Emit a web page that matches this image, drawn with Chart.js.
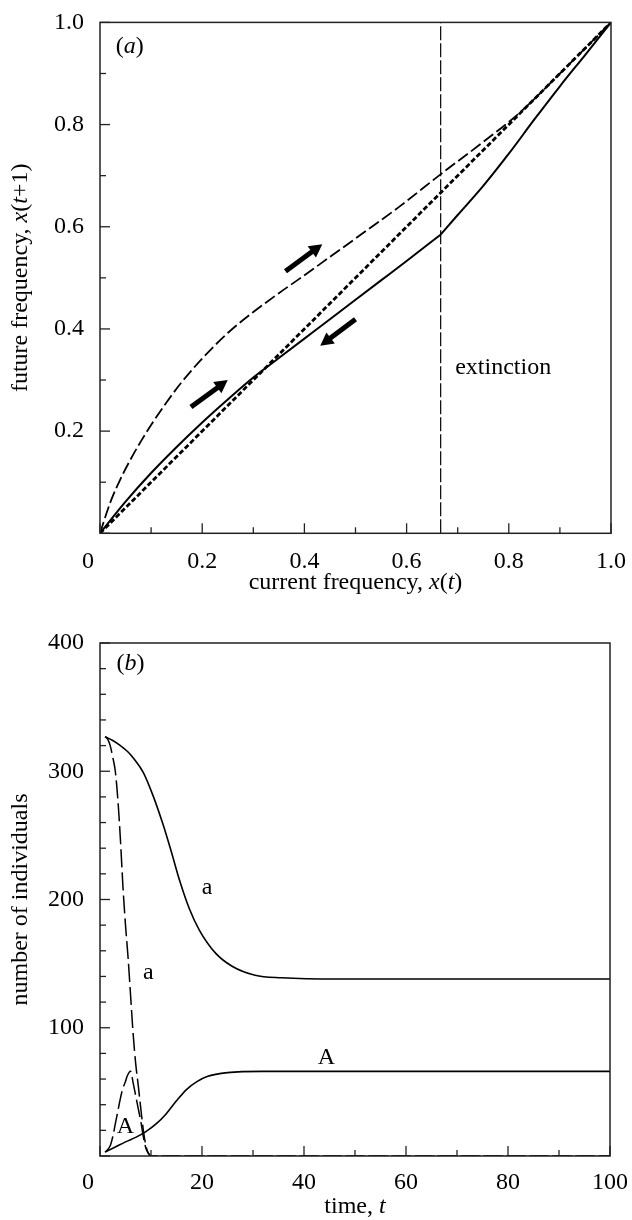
<!DOCTYPE html>
<html><head><meta charset="utf-8">
<script src="https://cdn.jsdelivr.net/npm/chart.js@4.4.0/dist/chart.umd.min.js"></script>
<style>html,body{margin:0;padding:0;background:#fff}canvas{display:block}</style>
</head><body>
<canvas id="c1" width="632" height="610" style="width:632px;height:610px"></canvas>
<canvas id="c2" width="632" height="610" style="width:632px;height:610px"></canvas>
<script>
// ===== Panel (a): frequency map =====
const upperX = [0, 0.02, 0.04, 0.06, 0.08, 0.10, 0.13, 0.16, 0.20, 0.25, 0.30, 0.35, 0.39, 0.45, 0.50, 0.584, 0.667, 0.75, 0.82, 0.90, 1.0];
const upperY = [0, 0.06, 0.106, 0.145, 0.18, 0.212, 0.256, 0.296, 0.342, 0.392, 0.433, 0.47, 0.498, 0.541, 0.577, 0.638, 0.703, 0.766, 0.822, 0.90, 1.0];
const solidLeftX = [0, 0.05, 0.10, 0.15, 0.20, 0.25, 0.30, 0.35, 0.40, 0.45, 0.50, 0.55, 0.60, 0.667];
const solidLeftY = [0, 0.062, 0.118, 0.169, 0.217, 0.262, 0.305, 0.343, 0.381, 0.419, 0.457, 0.495, 0.533, 0.585];
const solidRightX = [0.667, 0.70, 0.75, 0.80, 0.85, 0.90, 0.95, 1.0];
const solidRightY = [0.585, 0.623, 0.680, 0.743, 0.81, 0.875, 0.937, 1.0];
const diagX = [0, 1];
const diagY = [0, 1];
const extinctionX = [2/3, 2/3];
const extinctionY = [0, 1];
const arrowTailX = [0.363, 0.178, 0.500];
const arrowTailY = [0.513, 0.247, 0.419];
const arrowHeadX = [0.435, 0.250, 0.431];
const arrowHeadY = [0.566, 0.300, 0.367];
const freqMajorStep = 0.2, freqMinorStep = 0.1;

// ===== Panel (b): numbers over time =====
const solidSmallAT = [1, 2.5, 4, 5.5, 6.6, 8.5, 10.4, 12.4, 14, 15.6, 17.5, 19.5, 22.7, 25.9, 30.4, 35.6, 46.6, 100];
const solidSmallAV = [327, 324, 320, 315, 310, 299, 281, 258, 237, 215, 193, 176, 158, 148, 141, 139, 138, 138];
const solidBigAT = [1, 3, 5, 7, 9, 11, 13, 15, 17, 19, 21, 25, 32, 40, 100];
const solidBigAV = [3, 7, 11, 14.5, 19, 25, 33, 43, 52, 58, 62, 65, 66, 66, 66];
const dashSmallAT = [1, 1.5, 2, 2.5, 3, 3.5, 4, 4.5, 5, 5.5, 6, 6.5, 7, 7.5, 8, 8.5, 9, 9.5, 10, 100];
const dashSmallAV = [327, 325, 320, 311, 300, 278, 247, 210, 180, 155, 125, 95, 72, 55, 37, 20, 8, 2, 0, 0];
const dashBigAT = [1, 2, 2.5, 3, 3.5, 4, 4.5, 5, 5.3, 6, 6.5, 7, 7.5, 8, 8.5, 9, 9.5, 10, 100];
const dashBigAV = [3, 8, 15, 25, 35, 45, 53, 58, 62, 66, 57, 47, 37, 27, 15, 6, 2, 0, 0];
const timeMajorStep = 20, timeMinorStep = 10;
const countMajorStep = 100, countMinorStep = 20;

// text labels (data coordinates)
const panelALabels = [{t:'extinction', x:0.789, y:0.324}];
const panelBLabels = [{t:'a', x:21, y:209}, {t:'a', x:9.5, y:143}, {t:'A', x:44.4, y:76.6}, {t:'A', x:5.0, y:22.7}];

const FAM = '"Liberation Serif", "DejaVu Serif", serif';
const FS = 24;
const fnt = (it) => (it ? 'italic ' : '') + FS + 'px ' + FAM;
const toXY = (xs, ys) => xs.map((x, i) => ({x: x, y: ys[i]}));

function drawRich(ctx, parts, x, y, angle) {
  ctx.save(); ctx.translate(x, y); ctx.rotate(angle || 0);
  ctx.fillStyle = '#000'; ctx.textBaseline = 'middle'; ctx.textAlign = 'left';
  let total = 0;
  parts.forEach(p => { ctx.font = fnt(p.i); p.w = ctx.measureText(p.t).width; total += p.w; });
  let cx = -total / 2;
  parts.forEach(p => { ctx.font = fnt(p.i); ctx.fillText(p.t, cx, 0); cx += p.w; });
  ctx.restore();
}

function drawFrameAndTicks(chart, xMaj, xMin, yMaj, yMin) {
  const ctx = chart.ctx, a = chart.chartArea, xs = chart.scales.x, ys = chart.scales.y;
  ctx.save();
  ctx.strokeStyle = '#222'; ctx.lineWidth = 1.5;
  ctx.strokeRect(a.left, a.top, a.right - a.left, a.bottom - a.top);
  ctx.lineWidth = 1.3;
  const nX = Math.round((xs.max - xs.min) / xMin);
  for (let i = 0; i <= nX; i++) {
    const v = xs.min + i * xMin;
    const major = Math.abs(v / xMaj - Math.round(v / xMaj)) < 1e-6;
    const px = xs.getPixelForValue(v);
    ctx.beginPath(); ctx.moveTo(px, a.bottom); ctx.lineTo(px, a.bottom - (major ? 10 : 6)); ctx.stroke();
  }
  const nY = Math.round((ys.max - ys.min) / yMin);
  for (let i = 0; i <= nY; i++) {
    const v = ys.min + i * yMin;
    const major = Math.abs(v / yMaj - Math.round(v / yMaj)) < 1e-6;
    const py = ys.getPixelForValue(v);
    ctx.beginPath(); ctx.moveTo(a.left, py); ctx.lineTo(a.left + (major ? 10 : 6), py); ctx.stroke();
  }
  ctx.restore();
}

function drawArrow(ctx, x0, y0, x1, y1) {
  const ang = Math.atan2(y1 - y0, x1 - x0), c = Math.cos(ang), s = Math.sin(ang);
  const hl = 13, hw = 7;
  const bx = x1 - hl * c, by = y1 - hl * s;
  ctx.save(); ctx.strokeStyle = '#000'; ctx.fillStyle = '#000';
  ctx.lineWidth = 5; ctx.lineCap = 'butt';
  ctx.beginPath(); ctx.moveTo(x0, y0); ctx.lineTo(bx + 1 * c, by + 1 * s); ctx.stroke();
  ctx.beginPath(); ctx.moveTo(x1, y1); ctx.lineTo(bx - hw * s, by + hw * c); ctx.lineTo(bx + hw * s, by - hw * c); ctx.closePath(); ctx.fill();
  ctx.restore();
}

function drawLabels(chart, labels) {
  const ctx = chart.ctx, xs = chart.scales.x, ys = chart.scales.y;
  ctx.save(); ctx.fillStyle = '#000'; ctx.font = fnt(false); ctx.textAlign = 'center'; ctx.textBaseline = 'middle';
  labels.forEach(l => ctx.fillText(l.t, xs.getPixelForValue(l.x), ys.getPixelForValue(l.y)));
  ctx.restore();
}

const baseLine = {pointRadius: 0, borderColor: '#000', fill: false, cubicInterpolationMode: 'monotone'};

const pluginA = {
  id: 'panelA',
  afterDatasetsDraw(chart) {
    const ctx = chart.ctx, a = chart.chartArea, xs = chart.scales.x, ys = chart.scales.y;
    drawFrameAndTicks(chart, freqMajorStep, freqMinorStep, freqMajorStep, freqMinorStep);
    for (let i = 0; i < arrowTailX.length; i++) {
      drawArrow(ctx, xs.getPixelForValue(arrowTailX[i]), ys.getPixelForValue(arrowTailY[i]),
                xs.getPixelForValue(arrowHeadX[i]), ys.getPixelForValue(arrowHeadY[i]));
    }
    drawLabels(chart, panelALabels);
    drawRich(ctx, [{t:'('}, {t:'a', i:true}, {t:')'}], xs.getPixelForValue(0.058), ys.getPixelForValue(0.952));
    drawRich(ctx, [{t:'current frequency, '}, {t:'x', i:true}, {t:'('}, {t:'t', i:true}, {t:')'}], (a.left + a.right) / 2, a.bottom + 49);
    drawRich(ctx, [{t:'future frequency, '}, {t:'x', i:true}, {t:'('}, {t:'t', i:true}, {t:'+1)'}], 21, (a.top + a.bottom) / 2, -Math.PI / 2);
  }
};

const pluginB = {
  id: 'panelB',
  afterDatasetsDraw(chart) {
    const ctx = chart.ctx, a = chart.chartArea, xs = chart.scales.x, ys = chart.scales.y;
    drawFrameAndTicks(chart, timeMajorStep, timeMinorStep, countMajorStep, countMinorStep);
    drawLabels(chart, panelBLabels);
    drawRich(ctx, [{t:'('}, {t:'b', i:true}, {t:')'}], xs.getPixelForValue(6.0), ys.getPixelForValue(383.6));
    drawRich(ctx, [{t:'time, '}, {t:'t', i:true}], (a.left + a.right) / 2, a.bottom + 51);
    drawRich(ctx, [{t:'number of individuals'}], 21, (a.top + a.bottom) / 2, -Math.PI / 2);
  }
};

const tickFont = {family: FAM, size: FS};

new Chart(document.getElementById('c1'), {
  type: 'line',
  data: {datasets: [
    Object.assign({}, baseLine, {data: toXY(upperX, upperY), borderWidth: 1.8, borderDash: [12, 4]}),
    Object.assign({}, baseLine, {data: toXY(diagX, diagY), borderWidth: 2.8, borderDash: [5, 2.5], cubicInterpolationMode: 'default', tension: 0}),
    Object.assign({}, baseLine, {data: toXY(solidLeftX, solidLeftY), borderWidth: 2}),
    Object.assign({}, baseLine, {data: toXY(solidRightX, solidRightY), borderWidth: 2}),
    Object.assign({}, baseLine, {data: toXY(extinctionX, extinctionY), borderWidth: 1.2, borderDash: [14, 3], cubicInterpolationMode: 'default', tension: 0})
  ]},
  options: {
    responsive: false, animation: false, devicePixelRatio: 1,
    layout: {padding: {top: 20.7, right: 19, left: 0, bottom: 0}},
    plugins: {legend: {display: false}, tooltip: {enabled: false}},
    scales: {
      x: {type: 'linear', min: 0, max: 1, grid: {display: false}, border: {display: false},
          afterFit: s => { s.height = 76.7; },
          ticks: {stepSize: freqMajorStep, autoSkip: false, maxRotation: 0, padding: 6, color: '#000', font: tickFont,
                  callback: v => Math.abs(v) < 1e-9 ? '0\u2002\u2002' : v.toFixed(1)}},
      y: {type: 'linear', min: 0, max: 1, grid: {display: false}, border: {display: false},
          afterFit: s => { s.width = 100; },
          ticks: {stepSize: freqMajorStep, autoSkip: false, padding: 8, color: '#000', font: tickFont,
                  callback: v => Math.abs(v) < 1e-9 ? '' : v.toFixed(1)}}
    }
  },
  plugins: [pluginA]
});

new Chart(document.getElementById('c2'), {
  type: 'line',
  data: {datasets: [
    Object.assign({}, baseLine, {data: toXY(solidSmallAT, solidSmallAV), borderWidth: 1.6}),
    Object.assign({}, baseLine, {data: toXY(solidBigAT, solidBigAV), borderWidth: 1.6}),
    Object.assign({}, baseLine, {data: toXY(dashSmallAT, dashSmallAV), borderWidth: 1.5, borderDash: [18, 5]}),
    Object.assign({}, baseLine, {data: toXY(dashBigAT, dashBigAV), borderWidth: 1.5, borderDash: [18, 5]})
  ]},
  options: {
    responsive: false, animation: false, devicePixelRatio: 1,
    layout: {padding: {top: 33, right: 19, left: 0, bottom: 0}},
    plugins: {legend: {display: false}, tooltip: {enabled: false}},
    scales: {
      x: {type: 'linear', min: 0, max: 100, grid: {display: false}, border: {display: false},
          afterFit: s => { s.height = 64; },
          ticks: {stepSize: timeMajorStep, autoSkip: false, maxRotation: 0, padding: 4, color: '#000', font: tickFont,
                  callback: v => v === 0 ? '0\u2002\u2002' : String(v)}},
      y: {type: 'linear', min: 0, max: 400, grid: {display: false}, border: {display: false},
          afterFit: s => { s.width = 100; },
          ticks: {stepSize: countMajorStep, autoSkip: false, padding: 8, color: '#000', font: tickFont,
                  callback: v => v === 0 ? '' : String(v)}}
    }
  },
  plugins: [pluginB]
});
</script>
</body></html>
